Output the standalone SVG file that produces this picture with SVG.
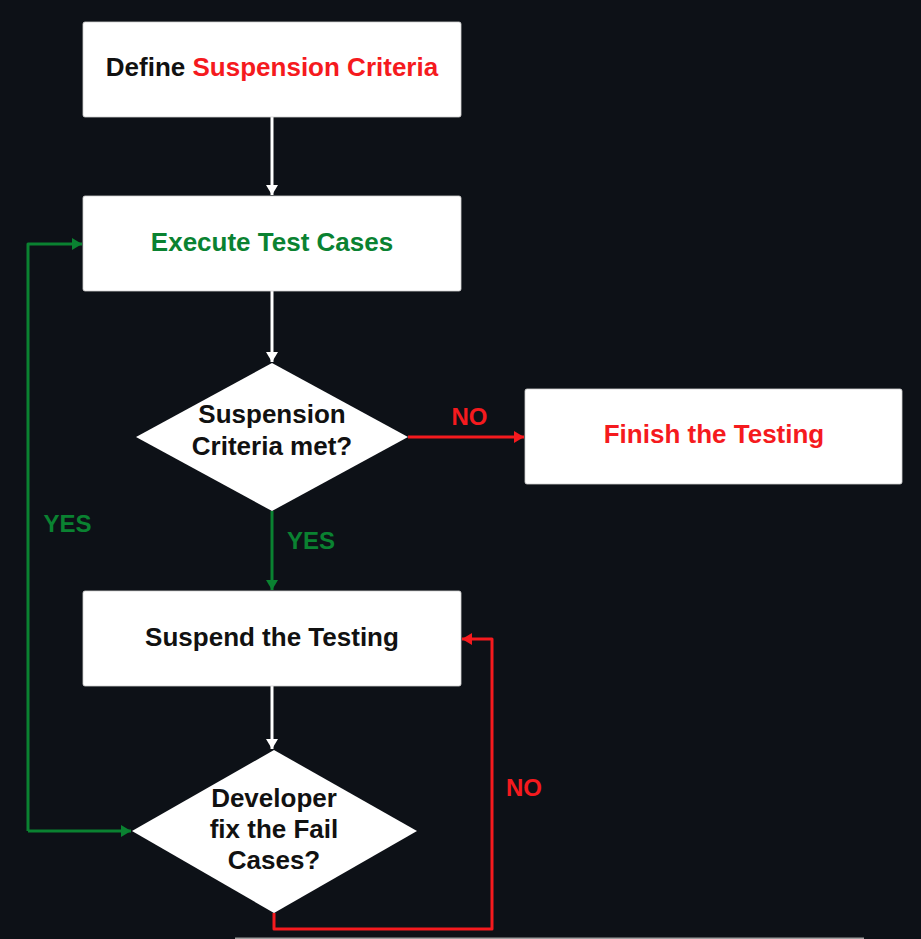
<svg xmlns="http://www.w3.org/2000/svg" width="921" height="939" viewBox="0 0 921 939">
<style>
.box{fill:#ffffff;stroke:#d0d0d0;stroke-width:0.8}
.t{font-family:"Liberation Sans",Arial,sans-serif;font-size:26px;font-weight:bold;text-anchor:middle}
.lbl{font-family:"Liberation Sans",Arial,sans-serif;font-size:24px;font-weight:bold;text-anchor:middle}
.w{fill:none;stroke:#ffffff;stroke-width:3}
.g{fill:none;stroke:#0a8231;stroke-width:3;stroke-linejoin:round}
.r{fill:none;stroke:#f51a1e;stroke-width:3;stroke-linejoin:round}
</style>
<defs>
<marker id="aw" viewBox="0 0 10 12" refX="10" refY="6" markerWidth="10" markerHeight="12" markerUnits="userSpaceOnUse" orient="auto"><path d="M0,0 L10,6 L0,12 z" fill="#ffffff"/></marker>
<marker id="ag" viewBox="0 0 10 12" refX="10" refY="6" markerWidth="10" markerHeight="12" markerUnits="userSpaceOnUse" orient="auto"><path d="M0,0 L10,6 L0,12 z" fill="#0a8231"/></marker>
<marker id="ar" viewBox="0 0 10 12" refX="10" refY="6" markerWidth="10" markerHeight="12" markerUnits="userSpaceOnUse" orient="auto"><path d="M0,0 L10,6 L0,12 z" fill="#f51a1e"/></marker>
</defs>
<rect x="0" y="0" width="921" height="939" fill="#0d1117"/>

<g id="connectors">
<path class="w" d="M272,117 L272,195" marker-end="url(#aw)"/>
<path class="w" d="M272,291 L272,362" marker-end="url(#aw)"/>
<path class="r" d="M408,437 L524,437" marker-end="url(#ar)"/>
<path class="g" d="M272,511 L272,590" marker-end="url(#ag)"/>
<path class="w" d="M272,686 L272,749" marker-end="url(#aw)"/>
<path class="g" d="M28,831 L28,244 L82,244" marker-end="url(#ag)"/>
<path class="g" d="M28,831 L131,831" marker-end="url(#ag)"/>
<path class="r" d="M274,913 L274,929 L492,929 L492,639 L462,639" marker-end="url(#ar)"/>
<text class="lbl" x="469.5" y="425" fill="#f51a1e">NO</text>
<text class="lbl" x="311" y="549" fill="#0a8231">YES</text>
<text class="lbl" x="67.5" y="532" fill="#0a8231">YES</text>
<text class="lbl" x="524" y="796" fill="#f51a1e">NO</text>
</g>

<g id="define">
<rect class="box" x="83" y="22" width="378" height="95" rx="2"/>
<text class="t" x="272" y="76"><tspan fill="#111111">Define </tspan><tspan fill="#f51a1e">Suspension Criteria</tspan></text>
</g>

<g id="execute">
<rect class="box" x="83" y="196" width="378" height="95" rx="2"/>
<text class="t" x="272" y="251" fill="#0a8231">Execute Test Cases</text>
</g>

<g id="criteria-met">
<polygon fill="#ffffff" points="272,363 408,437 272,511 136,437"/>
<text class="t" x="272" y="423" fill="#111111">Suspension</text>
<text class="t" x="272" y="455" fill="#111111">Criteria met?</text>
</g>

<g id="finish">
<rect class="box" x="525" y="389" width="377" height="95" rx="2"/>
<text class="t" x="714" y="443" fill="#f51a1e">Finish the Testing</text>
</g>

<g id="suspend">
<rect class="box" x="83" y="591" width="378" height="95" rx="2"/>
<text class="t" x="272" y="646" fill="#111111">Suspend the Testing</text>
</g>

<g id="developer-fix">
<polygon fill="#ffffff" points="274,750 417,831 274,913 132,831"/>
<text class="t" x="274" y="807" fill="#111111">Developer</text>
<text class="t" x="274" y="838" fill="#111111">fix the Fail</text>
<text class="t" x="274" y="869" fill="#111111">Cases?</text>
</g>

<g id="cut-off-box">
<line x1="235" y1="938.2" x2="864" y2="938.2" stroke="#a0a0a0" stroke-width="1.6"/>
</g>
</svg>
